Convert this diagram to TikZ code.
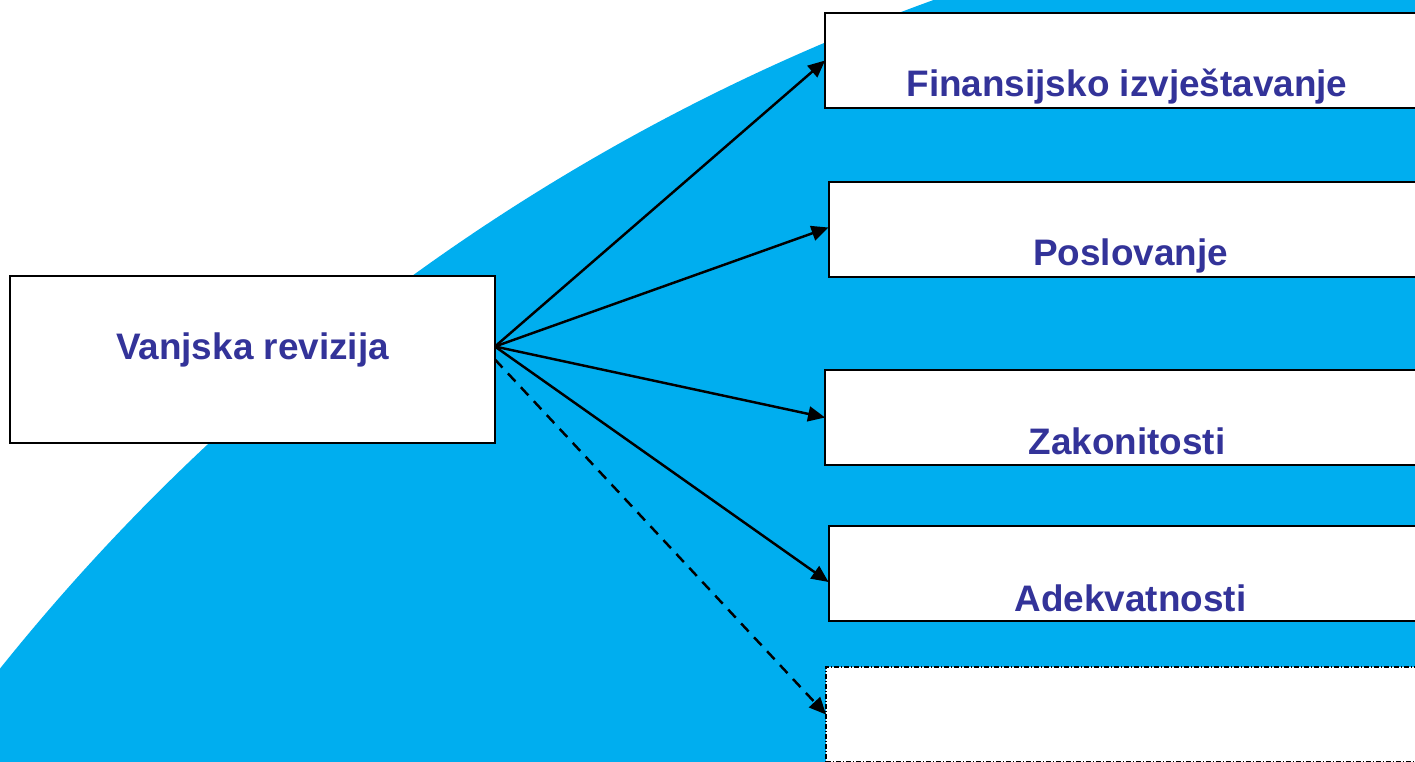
\documentclass[tikz,border=0pt]{standalone}
\usepackage{fontspec}
\setmainfont{Liberation Sans}
\usepackage{xcolor}
\usepackage{tikz}
\usetikzlibrary{positioning, arrows.meta, calc}
\definecolor{pozadina}{RGB}{0,174,239}
\definecolor{tekstplava}{RGB}{51,51,153}

\begin{document}
\begin{tikzpicture}[x=0.02cm, y=-0.02cm,
    okvir/.style={draw, fill=white, line width=1.2pt, minimum width=12.08cm, minimum height=1.9cm, inner sep=0pt, outer sep=0pt},
    natpis/.style={font=\fontsize{21}{25}\selectfont\bfseries, text=tekstplava, anchor=base, inner sep=0pt},
    strelica/.style={-{Triangle[length=3.4mm, width=3mm]}, line width=1.4pt}]

    \useasboundingbox (0,0) rectangle (1415,761);
    \clip (0,0) rectangle (1415,761);

    % === POZADINA ===
    \fill[pozadina] (1650,1988) circle[radius=42.26cm];

    % === VANJSKA REVIZIJA ===
    \node[okvir, minimum width=9.7cm, minimum height=3.34cm] (vr) at (252.5,359.5) {};
    \node[natpis] (tvr) at (vr.center) {Vanjska revizija};
    \coordinate (izvor) at ([yshift=2.6mm]vr.east);

    % === PODRUCJA ===
    \node[okvir] (fin) at (1127,60.5) {};
    \node[natpis] (tfin) at ([yshift=2.2mm]fin.south) {Finansijsko izvještavanje};

    \node[okvir] (pos) at (1130.5,229.5) {};
    \node[natpis] (tpos) at ([yshift=2.2mm]pos.south) {Poslovanje};

    \node[okvir] (zak) at (1127,417.5) {};
    \node[natpis] (tzak) at ([yshift=2.2mm]zak.south) {Zakonitosti};

    \node[okvir] (ade) at (1130.5,573.5) {};
    \node[natpis] (tade) at ([yshift=2mm]ade.south) {Adekvatnosti};

    % Prazan okvir (isprekidan)
    \node[okvir, line width=1.1pt, dash pattern=on 1mm off 0.4mm on 0.2mm off 0.4mm] (prazan) at (1128,714.5) {};

    % === STRELICE ===
    \draw[strelica] (izvor) -- (fin.west);
    \draw[strelica] (izvor) -- ([yshift=0.4mm]pos.west);
    \draw[strelica] (izvor) -- (zak.west);
    \draw[strelica] (izvor) -- ([yshift=-1.7mm]ade.west);
    \draw[strelica, dash pattern=on 2.2mm off 1.6mm] (vr.east) -- (prazan.west);

\end{tikzpicture}
\end{document}
